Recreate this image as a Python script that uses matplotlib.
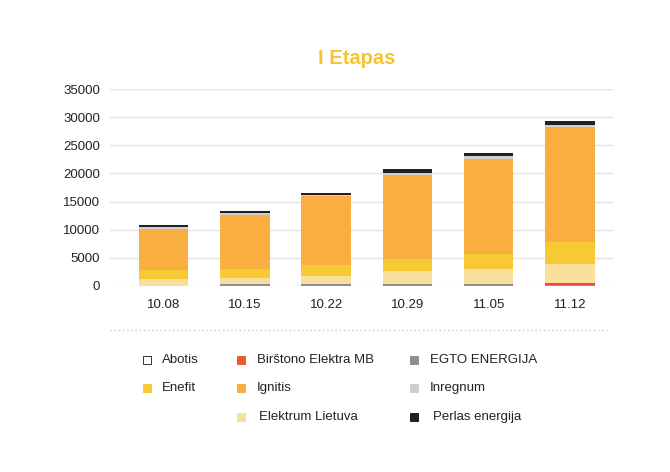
import numpy as np
import matplotlib.pyplot as plt
from matplotlib.patches import Rectangle
from matplotlib.lines import Line2D

plt.rcParams['font.family'] = ['Liberation Sans', 'DejaVu Sans']

## data
dates = ['10.08', '10.15', '10.22', '10.29', '11.05', '11.12']
egto = [0, 300, 300, 300, 350, 250]
birstono = [0, 0, 0, 0, 0, 300]
abotis = [0, 0, 0, 0, 0, 0]
elektrum = [1250, 1180, 1540, 2430, 2610, 3320]
enefit = [1550, 1560, 1910, 2150, 2700, 3880]
ignitis = [7380, 9640, 12200, 14820, 16960, 20540]
inregnum = [220, 300, 300, 300, 480, 310]
perlas = [440, 410, 230, 770, 600, 670]

## stacking order from the bottom
stack = [
    ('EGTO ENERGIJA', egto, '#8e8e8e'),
    ('Birštono Elektra MB', birstono, '#e0504a'),
    ('Abotis', abotis, '#ffffff'),
    ('Elektrum Lietuva', elektrum, '#f9df9c'),
    ('Enefit', enefit, '#f6c935'),
    ('Ignitis', ignitis, '#f9ae3f'),
    ('Inregnum', inregnum, '#cfcfcf'),
    ('Perlas energija', perlas, '#231f20'),
]

fig = plt.figure(figsize=(6.7, 4.72), dpi=100)
ax = fig.add_axes([110/670, 1-286/472, 503/670, 197/472])

x = np.arange(len(dates))
bottom = np.zeros(len(dates))
for name, vals, col in stack:
    ax.bar(x, vals, width=0.61, bottom=bottom, color=col, zorder=3)
    bottom += np.array(vals)

ax.set_ylim(0, 35000)
ax.set_xlim(-0.66, 5.53)
ax.set_yticks(range(0, 35001, 5000))
ax.set_xticks(x)
ax.set_xticklabels(dates)
ax.tick_params(length=0, labelsize=9.5, labelcolor='#222222')
ax.tick_params(axis='y', pad=7)
ax.tick_params(axis='x', pad=9)
ax.yaxis.grid(True, color='#e4e4e4', lw=1, zorder=0)
for s in ax.spines.values():
    s.set_visible(False)

fig.text(357/670, 1-58/472, 'I Etapas', ha='center', va='center',
         fontsize=14.5, fontweight='bold', color='#f6c431')

## dotted separator
fig.add_artist(Line2D([110/670, 607/670], [1-330/472, 1-330/472],
                      color='#cccccc', lw=1, ls=(0, (1, 2))))

## legend placed by hand
legend = [
    ('Abotis', '#ffffff', 147, 360, 162),
    ('Birštono Elektra MB', '#f05a2a', 241, 360, 257),
    ('EGTO ENERGIJA', '#8e8e8e', 414, 360, 430),
    ('Enefit', '#f6c935', 147, 388, 162),
    ('Ignitis', '#f9ae3f', 241, 388, 257),
    ('Inregnum', '#cfcfcf', 414, 388, 430),
    ('Elektrum Lietuva', '#f9df9c', 241, 417, 259),
    ('Perlas energija', '#231f20', 414, 417, 433),
]
for name, col, mx, my, tx in legend:
    ec = '#333333' if name == 'Abotis' else col
    fig.add_artist(Rectangle(((mx-4)/670, 1-(my+4)/472), 8/670, 8/472,
                             facecolor=col, edgecolor=ec, lw=0.7))
    fig.text(tx/670, 1-my/472, name, ha='left', va='center',
             fontsize=9.5, color='#222222')

fig.savefig('out.png', dpi=100)
